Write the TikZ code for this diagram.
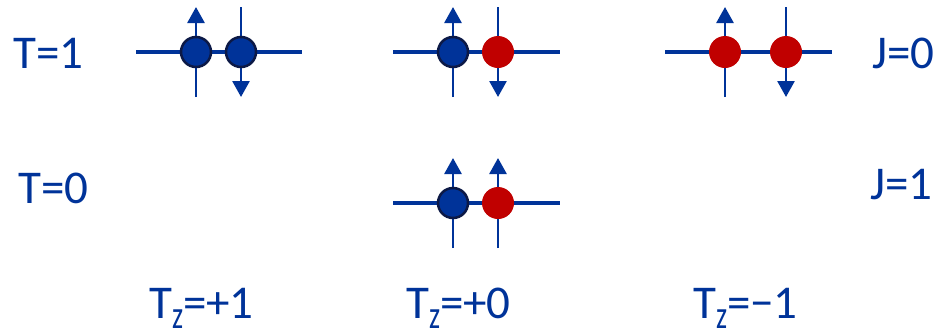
\documentclass[tikz,border=0pt]{standalone}
\usepackage{graphicx}
\usepackage{fontspec}
\setmainfont{Carlito}
\usetikzlibrary{arrows.meta}
\definecolor{tblue}{RGB}{0,51,153}
\definecolor{navy}{RGB}{12,25,70}
\definecolor{pred}{RGB}{192,0,0}
\pgfdeclarelayer{bg}
\pgfsetlayers{bg,main}
\newcommand\tzsub{\raisebox{-10pt}{\scalebox{1}[1.4]{\fontsize{28}{28}\selectfont z}}}
\begin{document}
\begin{tikzpicture}[x=1pt,y=-1pt,
  level/.style={line width=4pt, draw=tblue},
  spin/.style={line width=2.7pt, draw=tblue, -{Triangle[width=17pt,length=16pt]}, tblue},
  proton/.style={circle, draw=navy, line width=2.5pt, fill=tblue, minimum size=30pt, inner sep=0pt},
  neutron/.style={circle, fill=pred, minimum size=32pt, inner sep=0pt},
  lbl/.style={text=tblue, font=\fontsize{47}{50}\selectfont, anchor=base west, inner sep=0pt}]
\useasboundingbox (0,0) rectangle (938,333);
% level endpoints
\coordinate (aL) at (136,52); \coordinate (aR) at (302,52);
\coordinate (bL) at (393,52); \coordinate (bR) at (560,52);
\coordinate (cL) at (665,52); \coordinate (cR) at (832,52);
\coordinate (dL) at (393,203); \coordinate (dR) at (560,203);
% nucleons
\node[proton] (a1) at (196,52) {};
\node[proton] (a2) at (241,52) {};
\node[proton] (b1) at (453,52) {};
\node[neutron] (b2) at (498,52) {};
\node[neutron] (c1) at (725,52) {};
\node[neutron] (c2) at (786,52) {};
\node[proton] (d1) at (453,203) {};
\node[neutron] (d2) at (498,203) {};
\begin{pgfonlayer}{bg}
\draw[level] (aL) -- (aR);
\draw[level] (bL) -- (bR);
\draw[level] (cL) -- (cR);
\draw[level] (dL) -- (dR);
\draw[spin] ([yshift=-45pt]a1.center) -- ([yshift=45pt]a1.center);
\draw[spin] ([yshift=45pt]a2.center) -- ([yshift=-45pt]a2.center);
\draw[spin] ([yshift=-45pt]b1.center) -- ([yshift=45pt]b1.center);
\draw[spin] ([yshift=45pt]b2.center) -- ([yshift=-45pt]b2.center);
\draw[spin] ([yshift=-45pt]c1.center) -- ([yshift=45pt]c1.center);
\draw[spin] ([yshift=45pt]c2.center) -- ([yshift=-45pt]c2.center);
\draw[spin] ([yshift=-45pt]d1.center) -- ([yshift=45pt]d1.center);
\draw[spin] ([yshift=-45pt]d2.center) -- ([yshift=45pt]d2.center);
\end{pgfonlayer}
% labels
\node[lbl] (t1) at (13,68) {T=1};
\node[lbl] (t0) at (18,203) {T=0};
\node[lbl] (j0) at (872,68) {J=0};
\node[lbl] (j1) at (870,199) {J=1};
\node[lbl] (z1) at (149,318) {T\tzsub=+1};
\node[lbl] (z0) at (406,318) {T\tzsub=+0};
\node[lbl] (zm) at (693,318) {T\tzsub=−1};
\end{tikzpicture}
\end{document}
